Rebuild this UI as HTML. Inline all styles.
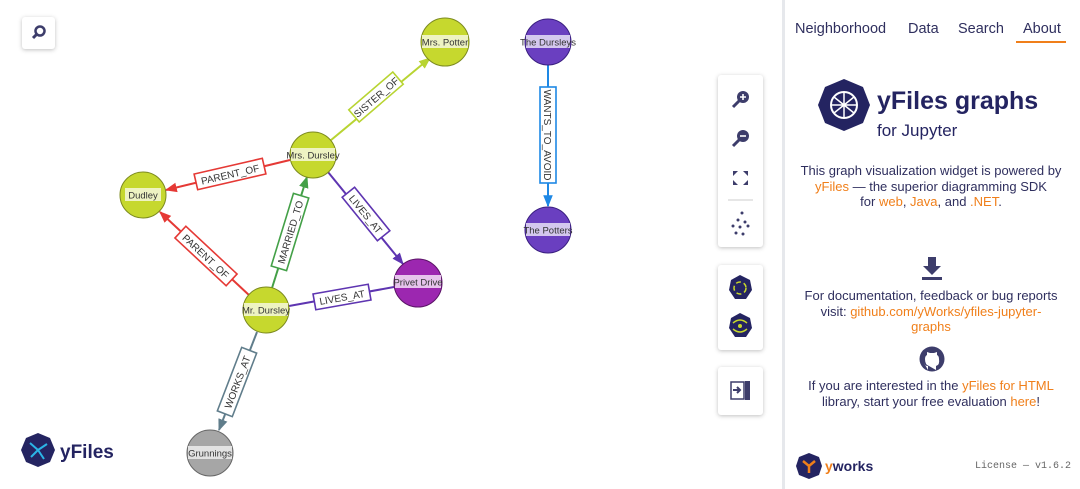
<!DOCTYPE html>
<html><head><meta charset="utf-8"><style>
body{margin:0;width:1080px;height:489px;background:#fff;overflow:hidden;position:relative;font-family:"Liberation Sans",sans-serif}
.btn{position:absolute;background:#fff;border-radius:3px;box-shadow:0 1px 4px rgba(0,0,0,.25)}
.side{position:absolute;left:782px;top:0;width:298px;height:489px;border-left:3px solid #e6e8ec;background:#fff;color:#2f2f5e;font-size:13px;text-align:center}
.o{color:#f07f1a}
.tabs{position:absolute;top:21px;left:10px;font-size:14.5px;color:#2f2f5e}
.tabs span{position:absolute;white-space:nowrap}
</style></head><body>
<svg width="780" height="489" style="position:absolute;left:0;top:0" font-family="Liberation Sans, sans-serif">
<defs>
<marker id="a" viewBox="0 0 10 10" refX="9" refY="5" markerWidth="6" markerHeight="6" orient="auto-start-reverse"><path d="M0,1L10,5L0,9z" fill="context-stroke"/></marker>
</defs>
<g stroke-width="2" fill="none">
<line x1="313" y1="155" x2="430" y2="58" stroke="#b8d432" marker-end="url(#a)"/>
<line x1="290" y1="160" x2="166" y2="190" stroke="#e53935" marker-end="url(#a)"/>
<line x1="250" y1="296" x2="160" y2="212" stroke="#e53935" marker-end="url(#a)"/>
<line x1="272" y1="288" x2="307" y2="177" stroke="#43a047" marker-end="url(#a)"/>
<line x1="328" y1="172" x2="403" y2="264" stroke="#5e35b1" marker-end="url(#a)"/>
<line x1="289" y1="306" x2="394" y2="287" stroke="#5e35b1"/>
<line x1="257" y1="332" x2="219" y2="430" stroke="#607d8b" marker-end="url(#a)"/>
<line x1="548" y1="65" x2="548" y2="206" stroke="#1e88e5" marker-end="url(#a)"/>
</g>
<g font-size="10" fill="#333" text-anchor="middle" stroke-width="1.6">
<g transform="translate(376,97) rotate(-40.6)"><rect x="-29" y="-8" width="58" height="16" fill="#fff" stroke="#b8d432"/><text y="4" stroke="none">SISTER_OF</text></g>
<g transform="translate(230,174) rotate(-13)"><rect x="-35" y="-8" width="70" height="16" fill="#fff" stroke="#e53935"/><text y="4" stroke="none">PARENT_OF</text></g>
<g transform="translate(206,256) rotate(43)"><rect x="-35" y="-8" width="70" height="16" fill="#fff" stroke="#e53935"/><text y="4" stroke="none">PARENT_OF</text></g>
<g transform="translate(290,232) rotate(-73)"><rect x="-38" y="-8" width="76" height="16" fill="#fff" stroke="#43a047"/><text y="4" stroke="none">MARRIED_TO</text></g>
<g transform="translate(366,214) rotate(51)"><rect x="-28" y="-8" width="56" height="16" fill="#fff" stroke="#5e35b1"/><text y="4" stroke="none">LIVES_AT</text></g>
<g transform="translate(342,297) rotate(-10)"><rect x="-28" y="-8" width="56" height="16" fill="#fff" stroke="#5e35b1"/><text y="4" stroke="none">LIVES_AT</text></g>
<g transform="translate(237,382) rotate(-69)"><rect x="-34" y="-8" width="68" height="16" fill="#fff" stroke="#607d8b"/><text y="4" stroke="none">WORKS_AT</text></g>
<g transform="translate(548,135) rotate(90)"><rect x="-48" y="-8" width="96" height="16" fill="#fff" stroke="#1e88e5"/><text y="4" stroke="none">WANTS_TO_AVOID</text></g>
</g>
<g font-size="9.5" fill="#333" text-anchor="middle">
<g transform="translate(445,42)"><circle r="24" fill="#c6d82e" stroke="#7c8a20"/><rect x="-23" y="-7" width="46" height="13" fill="#eef3c2"/><text y="3.5">Mrs. Potter</text></g>
<g transform="translate(313,155)"><circle r="23" fill="#c6d82e" stroke="#7c8a20"/><rect x="-22" y="-7" width="44" height="13" fill="#eef3c2"/><text y="3.5">Mrs. Dursley</text></g>
<g transform="translate(143,195)"><circle r="23" fill="#c6d82e" stroke="#7c8a20"/><rect x="-18" y="-7" width="36" height="13" fill="#eef3c2"/><text y="3.5">Dudley</text></g>
<g transform="translate(266,310)"><circle r="23" fill="#c6d82e" stroke="#7c8a20"/><rect x="-22" y="-7" width="44" height="13" fill="#eef3c2"/><text y="3.5">Mr. Dursley</text></g>
<g transform="translate(418,283)"><circle r="24" fill="#9c27b0" stroke="#5a1466"/><rect x="-23" y="-8" width="46" height="13" fill="#e6c4ec"/><text y="2.5">Privet Drive</text></g>
<g transform="translate(548,42)"><circle r="23" fill="#6a3fc0" stroke="#3a1f80"/><rect x="-22" y="-7" width="44" height="13" fill="#d4c8ee"/><text y="3.5">The Dursleys</text></g>
<g transform="translate(548,230)"><circle r="23" fill="#6a3fc0" stroke="#3a1f80"/><rect x="-22" y="-7" width="44" height="13" fill="#d4c8ee"/><text y="3.5">The Potters</text></g>
<g transform="translate(210,453)"><circle r="23" fill="#a6a6a6" stroke="#666"/><rect x="-22" y="-7" width="44" height="13" fill="#e2e2e2"/><text y="3.5">Grunnings</text></g>
</g>
<polygon points="38,433 50,438 55,450 50,462 38,467 26,462 21,450 26,438" fill="#242461"/>
<g stroke="#2bb5e6" stroke-width="2"><line x1="38" y1="450" x2="30" y2="443"/><line x1="38" y1="450" x2="47" y2="444"/><line x1="38" y1="450" x2="31" y2="457"/><line x1="38" y1="450" x2="44" y2="459"/></g>
<text x="60" y="458" font-size="19" font-weight="bold" fill="#242461">yFiles</text>
</svg>
<div class="btn" style="left:22px;top:17px;width:33px;height:32px"><svg width="33" height="32"><circle cx="18" cy="14" r="4.5" fill="none" stroke="#3d3d6b" stroke-width="2.5"/><line x1="14.5" y1="17.5" x2="11" y2="21" stroke="#3d3d6b" stroke-width="3"/></svg></div>
<div class="btn" style="left:718px;top:75px;width:45px;height:172px"><svg width="45" height="172" fill="#3d3d6b" stroke="#3d3d6b">
<circle cx="25" cy="22" r="6" stroke="none"/><line x1="21" y1="26" x2="15" y2="32" stroke-width="3"/><path d="M22,22h6M25,19v6" stroke="#fff" stroke-width="1.6"/>
<circle cx="25" cy="61" r="6" stroke="none"/><line x1="21" y1="65" x2="15" y2="71" stroke-width="3"/><path d="M22,61h6" stroke="#fff" stroke-width="1.6"/>
<path d="M15,96l5,0l-5,5zM30,96l-5,0l5,5zM15,110l5,0l-5,-5zM30,110l-5,0l5,-5z" stroke="none"/>
<line x1="10" y1="125" x2="35" y2="125" stroke="#ccc"/>
<g stroke="none"><circle cx="24" cy="138" r="1.5"/><circle cx="20" cy="145" r="1.5"/><circle cx="27" cy="147" r="1.5"/><circle cx="15" cy="151" r="1.5"/><circle cx="22" cy="152" r="1.5"/><circle cx="30" cy="151" r="1.5"/><circle cx="18" cy="158" r="1.5"/><circle cx="25" cy="159" r="1.5"/></g>
</svg></div>
<div class="btn" style="left:718px;top:265px;width:45px;height:85px"><svg width="45" height="85">
<polygon points="22,10 32,15 34,25 28,34 17,34 11,25 13,15" fill="#242461"/><circle cx="22" cy="23" r="6" fill="none" stroke="#c8d82a" stroke-width="1.5" stroke-dasharray="5 3"/>
<polygon points="22,48 32,53 34,63 28,72 17,72 11,63 13,53" fill="#242461"/><circle cx="22" cy="61" r="2" fill="#c8d82a"/><path d="M15,58q7,-6 14,0M15,64q7,6 14,0" fill="none" stroke="#c8d82a" stroke-width="1.5"/>
</svg></div>
<div class="btn" style="left:718px;top:367px;width:45px;height:48px"><svg width="45" height="48"><rect x="13" y="15" width="13" height="17" fill="none" stroke="#3d3d6b" stroke-width="1.5"/><rect x="27" y="14" width="5" height="19" fill="#3d3d6b"/><path d="M15,23h6M19,20l3,3l-3,3" stroke="#3d3d6b" stroke-width="2" fill="none"/></svg></div>
<div class="side">
<div class="tabs"><span style="left:0">Neighborhood</span><span style="left:113px">Data</span><span style="left:163px">Search</span><span style="left:228px">About</span></div>
<div style="position:absolute;left:231px;top:41px;width:50px;height:2px;background:#f07f1a"></div>
<svg style="position:absolute;left:32px;top:78px" width="55" height="55"><polygon points="27,1 46,9 53,27 46,45 27,53 8,45 1,27 8,9" fill="#242461"/><circle cx="27" cy="27" r="13" fill="none" stroke="#fff" stroke-width="2"/><path d="M17,19L37,35M37,19L17,35M27,14V40M14,27H40" stroke="#fff" stroke-width="1.5"/></svg>
<div style="position:absolute;left:92px;top:87px;font-size:25px;font-weight:bold;color:#242461;white-space:nowrap">yFiles graphs</div>
<div style="position:absolute;left:92px;top:121px;font-size:17px;color:#242461;white-space:nowrap">for Jupyter</div>
<div style="position:absolute;left:-6px;top:163px;width:304px;line-height:15.5px">This graph visualization widget is powered by<br><span class="o">yFiles</span> — the superior diagramming SDK<br>for <span class="o">web</span>, <span class="o">Java</span>, and <span class="o">.NET</span>.</div>
<svg style="position:absolute;left:136px;top:256px" width="22" height="25"><path d="M7,1h8v9h5l-9,9l-9,-9h5z" fill="#3d3d6b"/><rect x="1" y="21" width="20" height="3" fill="#3d3d6b"/></svg>
<div style="position:absolute;left:-6px;top:288px;width:304px;line-height:15.5px">For documentation, feedback or bug reports<br>visit: <span class="o">github.com/yWorks/yfiles-jupyter-<br>graphs</span></div>
<svg style="position:absolute;left:134px;top:346px" width="26" height="26"><circle cx="13" cy="13" r="12.5" fill="#3d3d6b"/><path d="M9,24v-4q-3,0-4,-3M17,24v-4q4,-1 3,-7q0-3-2-4l0-3l-3,1h-4l-3,-1l0,3q-2,1-2,4q0,6 4,7" fill="#fff"/></svg>
<div style="position:absolute;left:-6px;top:378px;width:304px;line-height:15.5px">If you are interested in the <span class="o">yFiles for HTML</span><br>library, start your free evaluation <span class="o">here</span>!</div>
<svg style="position:absolute;left:10px;top:452px" width="28" height="28"><polygon points="14,1 24,5 27,14 24,23 14,27 4,23 1,14 4,5" fill="#242461"/><path d="M8,9L14,14L20,9M14,14V21" stroke="#f07f1a" stroke-width="2.5" fill="none"/></svg>
<div style="position:absolute;left:40px;top:458px;font-size:14px;font-weight:bold;color:#242461"><span class="o">y</span>works</div>
<div style="position:absolute;left:190px;top:461px;font-family:'Liberation Mono',monospace;font-size:10px;color:#666;white-space:nowrap">License — v1.6.2</div>
</div>
</body></html>
